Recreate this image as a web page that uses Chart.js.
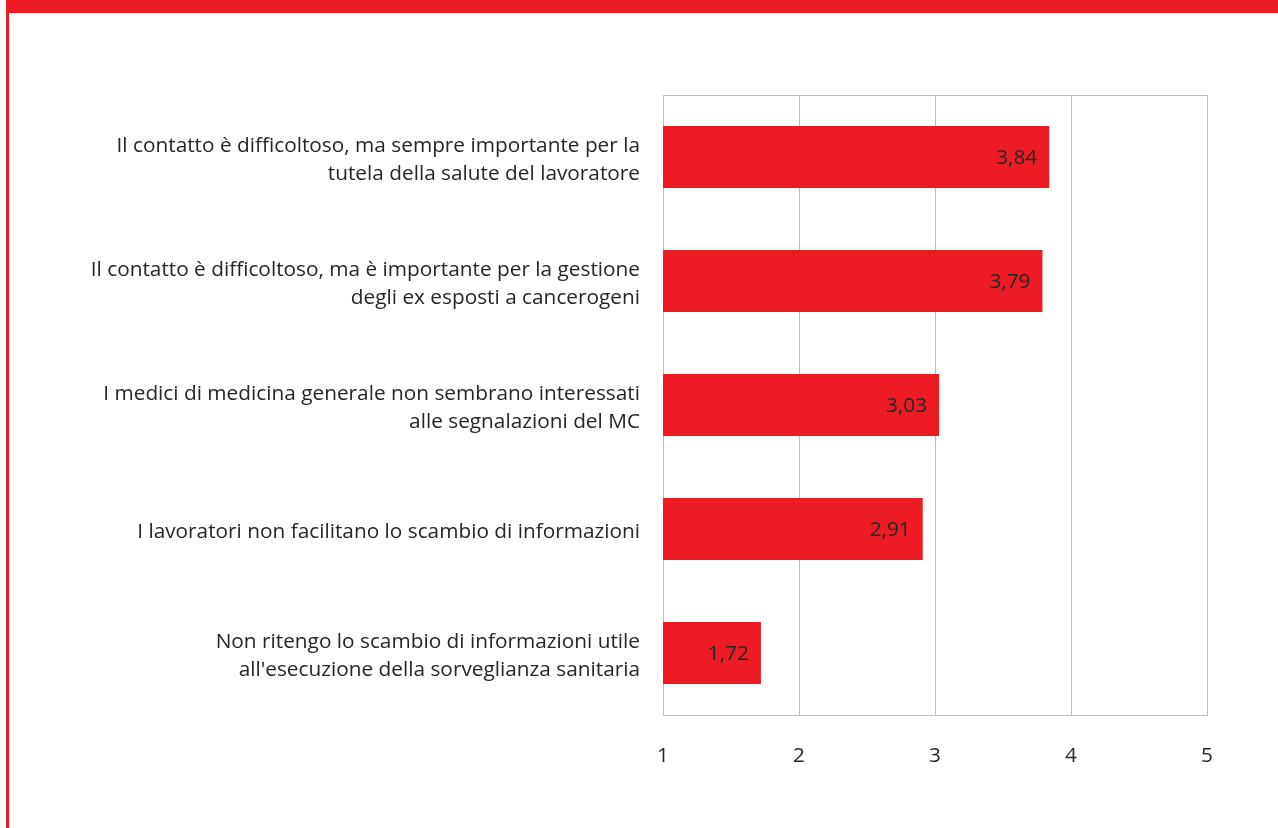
<!DOCTYPE html>
<html>
<head>
<meta charset="utf-8">
<script src="https://cdn.jsdelivr.net/npm/chart.js@4/dist/chart.umd.min.js"></script>
<style>
html,body{margin:0;padding:0;background:#fff;overflow:hidden;}
#wrap{position:absolute;left:0;top:0;width:1278px;height:828px;}
#topbar{position:absolute;left:6px;top:0;width:1272px;height:13px;background:#ED1C24;}
#leftbar{position:absolute;left:6px;top:0;width:3px;height:828px;background:#ED1C24;}
canvas{position:absolute;left:0;top:0;}
</style>
</head>
<body>
<div id="wrap">
<canvas id="c" width="1278" height="828"></canvas>
<div id="topbar"></div>
<div id="leftbar"></div>
</div>
<script>
const categories = [
  ["Il contatto è difficoltoso, ma sempre importante per la", "tutela della salute del lavoratore"],
  ["Il contatto è difficoltoso, ma è importante per la gestione", "degli ex esposti a cancerogeni"],
  ["I medici di medicina generale non sembrano interessati", "alle segnalazioni del MC"],
  "I lavoratori non facilitano lo scambio di informazioni",
  ["Non ritengo lo scambio di informazioni utile", "all'esecuzione della sorveglianza sanitaria"]
];
const values = [3.84, 3.79, 3.03, 2.91, 1.72];
const xTicks = [1, 2, 3, 4, 5];

const FONT = "'Open Sans', Lato, sans-serif";
const TEXT = "#262626";
const GRID = "#BFBFBF";
const FS = 20.8;

const valueLabels = {
  id: 'valueLabels',
  afterDatasetsDraw(chart) {
    const ctx = chart.ctx;
    const meta = chart.getDatasetMeta(0);
    ctx.save();
    ctx.font = FS + "px " + FONT;
    ctx.fillStyle = TEXT;
    ctx.textAlign = 'right';
    ctx.textBaseline = 'middle';
    meta.data.forEach((bar, i) => {
      const txt = values[i].toFixed(2).replace('.', ',');
      ctx.fillText(txt, bar.x - 12, bar.y + 1);
    });
    ctx.restore();
  }
};
const topBorder = {
  id: 'topBorder',
  beforeDatasetsDraw(chart) {
    const a = chart.chartArea, ctx = chart.ctx;
    ctx.save();
    ctx.strokeStyle = GRID;
    ctx.lineWidth = 1;
    ctx.beginPath();
    ctx.moveTo(a.left, a.top + 0.5);
    ctx.lineTo(a.right, a.top + 0.5);
    ctx.stroke();
    ctx.restore();
  }
};

new Chart(document.getElementById('c'), {
  type: 'bar',
  data: {
    labels: categories,
    datasets: [{
      data: values,
      backgroundColor: '#ED1C24',
      borderWidth: 0,
      categoryPercentage: 0.5,
      barPercentage: 1
    }]
  },
  options: {
    indexAxis: 'y',
    responsive: false,
    animation: false,
    devicePixelRatio: 1,
    layout: { padding: { left: 0, right: 71, top: 95, bottom: 0 } },
    plugins: { legend: { display: false }, tooltip: { enabled: false } },
    scales: {
      x: {
        min: 1, max: 5,
        afterBuildTicks(scale) { scale.ticks = xTicks.map(v => ({ value: v })); },
        afterFit(scale) { scale.height = 113; },
        grid: { color: GRID, lineWidth: 1, drawTicks: false },
        border: { color: GRID, width: 1 },
        ticks: { color: TEXT, font: { family: FONT, size: FS }, padding: 29 }
      },
      y: {
        grid: { display: false, drawTicks: false },
        border: { color: GRID, width: 1 },
        afterFit(scale) { scale.width = 663; },
        ticks: { color: TEXT, font: { family: FONT, size: FS, lineHeight: 1.33 }, padding: 23, labelOffset: 3 }
      }
    }
  },
  plugins: [valueLabels, topBorder]
});
</script>
</body>
</html>
